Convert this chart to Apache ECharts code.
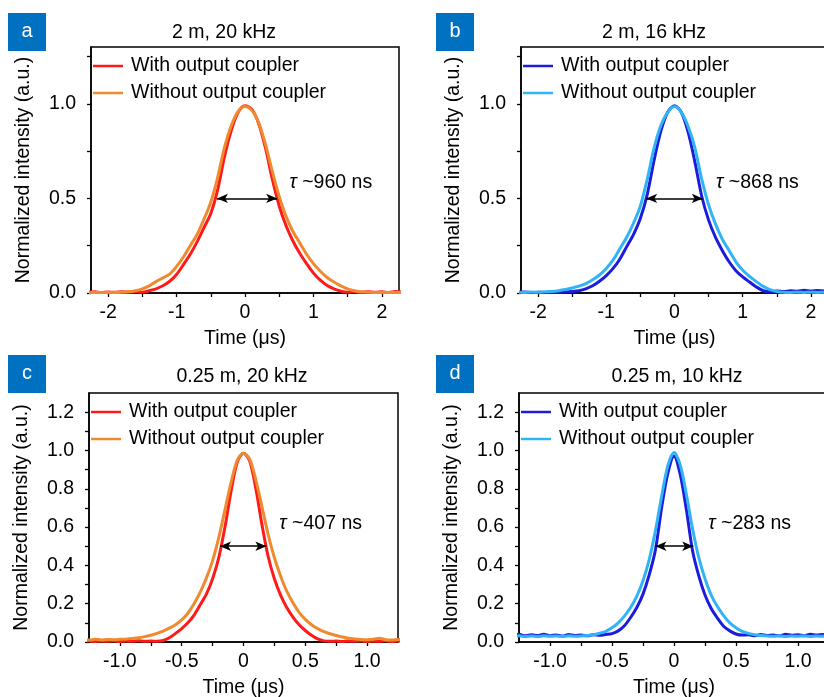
<!DOCTYPE html>
<html>
<head>
<meta charset="utf-8">
<title>Pulse profiles</title>
<script src="https://cdn.jsdelivr.net/npm/echarts@6/dist/echarts.min.js"></script>
<style>
  html, body { margin: 0; padding: 0; background: #fff; }
  #chart { width: 824px; height: 697px; }
</style>
</head>
<body>
<div id="chart"></div>
<script>
// time axis samples (us)
var timeWide = [-2.3, -2.2, -2.1, -2.0, -1.9, -1.8, -1.7, -1.6, -1.5, -1.4, -1.3, -1.2, -1.1, -1.0, -0.9, -0.8,
    -0.7, -0.6, -0.5, -0.4, -0.3, -0.2, -0.1, 0, 0.1, 0.2, 0.3, 0.4, 0.5, 0.6, 0.7, 0.8, 0.9, 1.0, 1.1, 1.2,
    1.3, 1.4, 1.5, 1.6, 1.7, 1.8, 1.9, 2.0, 2.1, 2.2, 2.3];
var timeNarrow = [-1.3, -1.25, -1.2, -1.15, -1.1, -1.05, -1.0, -0.95, -0.9, -0.85, -0.8, -0.75, -0.7, -0.65,
    -0.6, -0.55, -0.5, -0.45, -0.4, -0.35, -0.3, -0.25, -0.2, -0.15, -0.1, -0.05, 0, 0.05, 0.1, 0.15, 0.2,
    0.25, 0.3, 0.35, 0.4, 0.45, 0.5, 0.55, 0.6, 0.65, 0.7, 0.75, 0.8, 0.85, 0.9, 0.95, 1.0, 1.05, 1.1, 1.15,
    1.2, 1.25, 1.3];

// a: 2 m, 20 kHz
var a_with = [0.004, 0.006, 0.003, 0.005, 0.004, 0.006, 0.005, 0.006, 0.004, 0.012, 0.022, 0.038, 0.062, 0.098,
    0.15, 0.205, 0.27, 0.345, 0.42, 0.545, 0.72, 0.86, 0.955, 0.99, 0.97, 0.895, 0.765, 0.6, 0.46, 0.355,
    0.275, 0.21, 0.155, 0.105, 0.068, 0.04, 0.022, 0.01, 0.004, 0.006, 0.003, 0.007, 0.004, 0.006, 0.003,
    0.008, 0.004];
var a_without = [0.002, 0.003, 0.002, 0.003, 0.002, 0.004, 0.006, 0.012, 0.022, 0.038, 0.06, 0.08, 0.1, 0.14,
    0.19, 0.25, 0.31, 0.39, 0.48, 0.61, 0.77, 0.885, 0.96, 0.985, 0.965, 0.9, 0.785, 0.64, 0.51, 0.405,
    0.325, 0.265, 0.205, 0.155, 0.115, 0.082, 0.058, 0.038, 0.022, 0.012, 0.006, 0.004, 0.003, 0.002, 0.003,
    0.002, 0.002];
// b: 2 m, 16 kHz
var b_with = [0.003, 0.005, 0.002, 0.004, 0.003, 0.005, 0.004, 0.006, 0.008, 0.012, 0.022, 0.038, 0.062, 0.092,
    0.13, 0.18, 0.245, 0.31, 0.395, 0.52, 0.7, 0.855, 0.955, 0.99, 0.955, 0.85, 0.69, 0.51, 0.385, 0.295,
    0.225, 0.165, 0.118, 0.085, 0.058, 0.032, 0.012, 0.006, 0.01, 0.008, 0.012, 0.009, 0.014, 0.01, 0.013,
    0.011, 0.012];
var b_without = [0.004, 0.003, 0.005, 0.004, 0.006, 0.008, 0.012, 0.018, 0.026, 0.036, 0.05, 0.07, 0.095, 0.13,
    0.175, 0.235, 0.295, 0.37, 0.46, 0.6, 0.765, 0.885, 0.955, 0.985, 0.955, 0.88, 0.765, 0.6, 0.465, 0.365,
    0.285, 0.225, 0.165, 0.12, 0.088, 0.06, 0.035, 0.018, 0.008, 0.004, 0.003, 0.004, 0.003, 0.004, 0.003,
    0.004, 0.003];
// c: 0.25 m, 20 kHz
var c_with = [0.004, 0.006, 0.003, 0.005, 0.004, 0.006, 0.003, 0.005, 0.004, 0.006, 0.004, 0.005, 0.004, 0.008,
    0.022, 0.045, 0.07, 0.1, 0.14, 0.195, 0.25, 0.33, 0.44, 0.6, 0.79, 0.94, 0.985, 0.945, 0.8, 0.61, 0.445,
    0.33, 0.245, 0.18, 0.13, 0.09, 0.06, 0.035, 0.016, 0.006, 0.004, 0.005, 0.003, 0.005, 0.004, 0.006,
    0.003, 0.005, 0.004, 0.006, 0.003, 0.005, 0.004];
var c_without = [0.012, 0.01, 0.014, 0.011, 0.013, 0.012, 0.014, 0.015, 0.018, 0.022, 0.028, 0.035, 0.045, 0.057,
    0.072, 0.09, 0.115, 0.15, 0.2, 0.26, 0.335, 0.425, 0.545, 0.69, 0.835, 0.95, 0.985, 0.955, 0.845, 0.705,
    0.56, 0.44, 0.345, 0.265, 0.205, 0.155, 0.118, 0.09, 0.07, 0.054, 0.043, 0.034, 0.026, 0.02, 0.016,
    0.013, 0.012, 0.014, 0.02, 0.012, 0.011, 0.013, 0.01];
// d: 0.25 m, 10 kHz
var d_with = [0.035, 0.04, 0.032, 0.038, 0.034, 0.041, 0.033, 0.037, 0.031, 0.039, 0.034, 0.036, 0.032, 0.038,
    0.035, 0.039, 0.044, 0.058, 0.085, 0.128, 0.18, 0.25, 0.35, 0.48, 0.7, 0.88, 0.97, 0.875, 0.69, 0.475,
    0.345, 0.245, 0.175, 0.125, 0.082, 0.058, 0.042, 0.036, 0.038, 0.033, 0.039, 0.034, 0.037, 0.032, 0.04,
    0.035, 0.038, 0.033, 0.04, 0.036, 0.039, 0.034, 0.037];
var d_without = [0.03, 0.032, 0.028, 0.031, 0.029, 0.032, 0.03, 0.031, 0.029, 0.032, 0.03, 0.031, 0.034, 0.038,
    0.046, 0.056, 0.074, 0.1, 0.135, 0.18, 0.24, 0.32, 0.43, 0.58, 0.76, 0.92, 0.99, 0.925, 0.77, 0.59, 0.44,
    0.33, 0.245, 0.185, 0.138, 0.1, 0.074, 0.055, 0.045, 0.038, 0.034, 0.031, 0.03, 0.032, 0.029, 0.031,
    0.03, 0.032, 0.029, 0.031, 0.03, 0.032, 0.03];

// FWHM arrows [from, to, level] and tau labels [x, y, text]
var arrows = [[-0.41, 0.47, 0.5], [-0.415, 0.415, 0.5], [-0.19, 0.185, 0.5], [-0.15, 0.155, 0.5]];
var tauLabels = [[0.65, 0.585, '~960 ns'], [0.61, 0.585, '~868 ns'], [0.29, 0.62, '~407 ns'], [0.277, 0.62, '~283 ns']];
var titles = ['2 m, 20 kHz', '2 m, 16 kHz', '0.25 m, 20 kHz', '0.25 m, 10 kHz'];
var letters = ['a', 'b', 'c', 'd'];

// tick values
var xLabelsWide = [-2, -1, 0, 1, 2];
var xTicksWide = [-2, -1.5, -1, -0.5, 0, 0.5, 1, 1.5, 2];
var xLabelsNarrow = [-1, -0.5, 0, 0.5, 1];
var xTicksNarrow = [-1, -0.75, -0.5, -0.25, 0, 0.25, 0.5, 0.75, 1];
var yLabelsTop = [0, 0.5, 1];
var yTicksTop = [0, 0.25, 0.5, 0.75, 1, 1.25];
var yLabelsBottom = [0, 0.2, 0.4, 0.6, 0.8, 1, 1.2];
var yTicksBottom = [0, 0.1, 0.2, 0.3, 0.4, 0.5, 0.6, 0.7, 0.8, 0.9, 1, 1.1, 1.2];

var RED = '#ff1a1a', ORANGE = '#f08a2e', BLUE = '#1c1cdc', SKY = '#31b4f5';
var FONT = 'Liberation Sans';
var FS = 19.5;

function pairs(xs, ys) {
    return xs.map(function (x, i) { return [x, ys[i]]; });
}

var grids = [
    {left: 91, top: 47, width: 308, height: 246},
    {left: 521, top: 47, width: 307, height: 246},
    {left: 89, top: 393, width: 309, height: 249},
    {left: 519, top: 393, width: 310, height: 249}
];

var axisCommon = {
    axisLine: {onZero: false, lineStyle: {color: '#000', width: 1.5}},
    splitLine: {show: false},
    nameTextStyle: {color: '#000', fontFamily: FONT, fontSize: FS},
    nameLocation: 'middle'
};

function xAxisFor(i) {
    var wide = i < 2;
    return Object.assign({}, axisCommon, {
        type: 'value',
        gridIndex: i,
        min: wide ? -2.25 : -1.25,
        max: wide ? 2.25 : 1.25,
        name: 'Time (μs)',
        nameGap: 36,
        axisTick: {inside: false, length: 4, lineStyle: {color: '#000', width: 1.3},
            customValues: wide ? xTicksWide : xTicksNarrow},
        axisLabel: {color: '#000', fontFamily: FONT, fontSize: FS, margin: 10,
            customValues: wide ? xLabelsWide : xLabelsNarrow,
            formatter: function (v) { return wide || v === 0 ? String(v) : v.toFixed(1); }}
    });
}

function yAxisFor(i) {
    var top = i < 2;
    return Object.assign({}, axisCommon, {
        type: 'value',
        gridIndex: i,
        min: 0,
        max: 1.3,
        name: 'Normalized intensity (a.u.)',
        nameGap: 57,
        axisTick: {inside: false, length: 4, lineStyle: {color: '#000', width: 1.3},
            customValues: top ? yTicksTop : yTicksBottom},
        axisLabel: {color: '#000', fontFamily: FONT, fontSize: FS, margin: 15,
            customValues: top ? yLabelsTop : yLabelsBottom,
            formatter: function (v) { return v.toFixed(1); }}
    });
}

var panelData = [
    [timeWide, a_with, a_without, RED, ORANGE],
    [timeWide, b_with, b_without, BLUE, SKY],
    [timeNarrow, c_with, c_without, RED, ORANGE],
    [timeNarrow, d_with, d_without, BLUE, SKY]
];

var series = [];
var legends = [];
panelData.forEach(function (p, i) {
    var suffix = (i === 1 || i === 3) ? ' ' : '';
    var nameWith = 'With output coupler' + suffix;
    var nameWithout = 'Without output coupler' + suffix;
    series.push({
        name: nameWith,
        type: 'line',
        xAxisIndex: i,
        yAxisIndex: i,
        symbol: 'none',
        smooth: 0.3,
        data: pairs(p[0], p[1]),
        lineStyle: {color: p[3], width: 3},
        itemStyle: {color: p[3]},
        z: 2
    });
    series.push({
        name: nameWithout,
        type: 'line',
        xAxisIndex: i,
        yAxisIndex: i,
        symbol: 'none',
        smooth: 0.3,
        data: pairs(p[0], p[2]),
        lineStyle: {color: p[4], width: 3},
        itemStyle: {color: p[4]},
        z: 3,
        markLine: {
            silent: true,
            symbol: ['arrow', 'arrow'],
            symbolSize: [7, 11],
            label: {show: false},
            lineStyle: {color: '#000', width: 1.5, type: 'solid'},
            data: [[{coord: [arrows[i][0], arrows[i][2]]}, {coord: [arrows[i][1], arrows[i][2]]}]]
        },
        markPoint: {
            silent: true,
            symbol: 'circle',
            symbolSize: 0,
            label: {
                show: true, position: 'right', distance: 0,
                color: '#000', fontFamily: FONT, fontSize: FS,
                formatter: '{t|τ} ' + tauLabels[i][2],
                rich: {t: {fontStyle: 'italic', fontFamily: FONT, fontSize: FS, color: '#000'}}
            },
            data: [{coord: [tauLabels[i][0], tauLabels[i][1]]}]
        }
    });
    legends.push({
        data: [nameWith, nameWithout],
        orient: 'vertical',
        left: grids[i].left + 2,
        top: grids[i].top + 9,
        padding: 0,
        itemGap: 7,
        itemWidth: 30,
        itemHeight: 2.5,
        icon: 'rect',
        textStyle: {color: '#000', fontFamily: FONT, fontSize: FS, padding: [0, 0, 0, 3]},
        formatter: function (n) { return n.trim(); },
        selectedMode: false
    });
});

var titleCenters = [[224, 23], [654, 23], [242, 367], [677, 367]];
var titleList = titles.map(function (t, i) {
    return {
        text: t,
        left: titleCenters[i][0],
        top: titleCenters[i][1],
        textAlign: 'center',
        padding: 0,
        textStyle: {color: '#000', fontFamily: FONT, fontSize: FS, fontWeight: 'normal'}
    };
});

var boxPos = [[8, 13], [436, 13], [8, 355], [436, 355]];
var graphics = [];
letters.forEach(function (l, i) {
    graphics.push({
        type: 'rect', x: boxPos[i][0], y: boxPos[i][1],
        shape: {x: 0, y: 0, width: 38, height: 38},
        style: {fill: '#0070c0'}
    });
    graphics.push({
        type: 'text', x: boxPos[i][0] + 19, y: boxPos[i][1] + 18,
        style: {text: l, fill: '#fff', font: '20px "Liberation Sans"',
            textAlign: 'center', textVerticalAlign: 'middle', align: 'center', verticalAlign: 'middle'}
    });
});

var myChart = echarts.init(document.getElementById('chart'));
var option = {
    animation: false,
    backgroundColor: '#fff',
    title: titleList,
    legend: legends,
    grid: grids.map(function (g) {
        return Object.assign({show: true, borderColor: '#000', borderWidth: 1.5, outerBoundsMode: 'none'}, g);
    }),
    xAxis: [0, 1, 2, 3].map(xAxisFor),
    yAxis: [0, 1, 2, 3].map(yAxisFor),
    graphic: graphics,
    series: series
};
myChart.setOption(option);
</script>
</body>
</html>
